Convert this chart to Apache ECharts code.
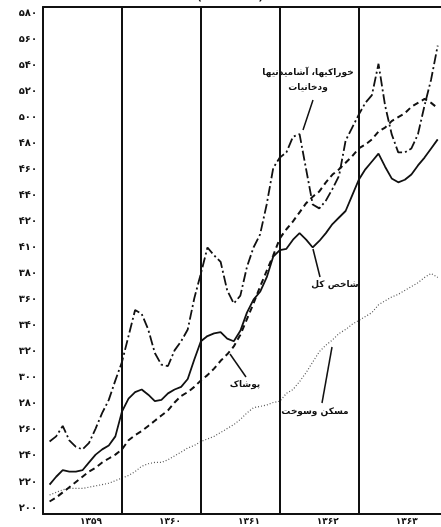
<!DOCTYPE html>
<html>
<head>
<meta charset="utf-8">
<script src="https://cdn.jsdelivr.net/npm/echarts@6/dist/echarts.min.js"></script>
<style>
html,body{margin:0;padding:0;background:#fff}
#cpi_chart{width:441px;height:527px}
</style>
</head>
<body>
<div id="cpi_chart"></div>
<script>
// monthly index, 1358 = 100, five years of months
const years = ['۱۳۵۹', '۱۳۶۰', '۱۳۶۱', '۱۳۶۲', '۱۳۶۳'];
const yearBounds = [12, 24, 36, 48];
const yTicks = [200, 220, 240, 260, 280, 300, 320, 340, 360, 380, 400, 420, 440, 460, 480, 500, 520, 540, 560, 580];
const yLabels = ['۲۰۰', '۲۲۰', '۲۴۰', '۲۶۰', '۲۸۰', '۳۰۰', '۳۲۰', '۳۴۰', '۳۶۰', '۳۸۰', '۴۱۰', '۴۲۰', '۴۴۰', '۴۶۰', '۴۸۰', '۵۰۰', '۵۲۰', '۵۴۰', '۵۶۰', '۵۸۰'];

const food = [251, 255, 263, 252, 247, 245, 250, 261, 273, 283, 298, 312,
  332, 352, 349, 337, 319, 310, 309, 321, 328, 337, 361, 380,
  400, 394, 389, 367, 357, 363, 385, 400, 410, 433, 461, 469,
  473, 485, 487, 460, 433, 430, 436, 445, 455, 482, 492, 502,
  511, 517, 541, 509, 487, 473, 473, 476, 487, 509, 529, 555];
const general = [218, 224, 229, 228, 228, 229, 235, 241, 245, 248, 255, 274,
  284, 289, 291, 287, 282, 283, 288, 291, 293, 299, 314, 328,
  332, 334, 335, 330, 328, 336, 350, 360, 366, 377, 393, 398,
  399, 406, 411, 406, 400, 405, 411, 418, 423, 428, 440, 452,
  460, 466, 472, 462, 453, 450, 452, 456, 463, 469, 476, 483];
const clothing = [205, 208, 212, 216, 220, 224, 228, 231, 235, 238, 241, 245,
  252, 256, 259, 263, 267, 271, 275, 281, 286, 289, 293, 298,
  302, 307, 313, 318, 324, 333, 345, 357, 370, 382, 394, 407,
  414, 420, 427, 434, 439, 443, 450, 456, 460, 465, 470, 476,
  479, 483, 489, 492, 497, 500, 503, 508, 511, 514, 511, 507];
const housing = [210, 212, 214, 215, 215, 215, 216, 217, 218, 219, 221, 223,
  225, 228, 232, 234, 235, 235, 237, 240, 243, 246, 248, 251,
  253, 255, 258, 261, 264, 268, 273, 277, 278, 279, 281, 282,
  288, 291, 297, 304, 312, 320, 325, 329, 334, 337, 341, 344,
  347, 350, 356, 359, 362, 364, 367, 370, 373, 377, 380, 377];

const fontFamily = "'DejaVu Sans', sans-serif";

function toPairs(arr) {
  return arr.map((v, i) => [i + 1, v]);
}

function lineSeries(name, arr, color, width, type) {
  return {
    name: name,
    type: 'line',
    data: toPairs(arr),
    symbol: 'none',
    silent: true,
    lineStyle: { color: color, width: width, type: type }
  };
}

const myChart = echarts.init(document.getElementById('cpi_chart'), null, { renderer: 'canvas' });

const option = {
  animation: false,
  backgroundColor: '#fff',
  grid: { left: 43, right: 0, top: 7, bottom: 13 },
  xAxis: [
    {
      type: 'value',
      min: 0,
      max: 60.5,
      axisLine: { show: true, lineStyle: { color: '#111', width: 2 } },
      axisTick: { show: false },
      splitLine: { show: false },
      axisLabel: {
        customValues: years.map((y, i) => i * 12 + 7.3),
        formatter: (v) => years[Math.round((v - 7.3) / 12)],
        color: '#111',
        fontFamily: fontFamily,
        fontWeight: 'bold',
        fontSize: 9,
        margin: 3
      }
    },
    {
      type: 'value',
      position: 'top',
      min: 0,
      max: 60.5,
      axisLine: { show: true, lineStyle: { color: '#111', width: 2 } },
      axisTick: { show: false },
      axisLabel: { show: false },
      splitLine: { show: false }
    }
  ],
  yAxis: {
    type: 'value',
    min: 195.4,
    max: 584.6,
    axisLine: { show: true, lineStyle: { color: '#111', width: 2 } },
    axisTick: { show: false },
    splitLine: { show: false },
    axisLabel: {
      customValues: yTicks,
      formatter: (v) => yLabels[yTicks.indexOf(Math.round(v))],
      color: '#111',
      fontFamily: fontFamily,
      fontWeight: 'bold',
      fontSize: 10,
      margin: 6
    }
  },
  series: [
    Object.assign(lineSeries('مسکن و سوخت', housing, '#555', 1.2, [1, 2]), {
      markLine: {
        silent: true,
        symbol: 'none',
        label: { show: false },
        lineStyle: { color: '#111', width: 2, type: 'solid' },
        data: yearBounds.map(b => ({ xAxis: b }))
      }
    }),
    lineSeries('پوشاک', clothing, '#111', 2, [6, 4]),
    lineSeries('شاخص کل', general, '#111', 1.8, 'solid'),
    lineSeries('خوراکیها، آشامیدنیها و دخانیات', food, '#111', 1.8, [10, 3, 2, 3])
  ],
  graphic: [
    { type: 'text', left: 197, top: -8, style: { text: '(۱۳۵۸=۱۰۰)', font: 'bold 11px ' + fontFamily, fill: '#111' } },
    { type: 'text', x: 308, y: 73, style: { text: 'خوراکیها، آشامیدنیها', font: 'bold 9px ' + fontFamily, fill: '#111', align: 'center', verticalAlign: 'middle' } },
    { type: 'text', x: 308, y: 88, style: { text: 'ودخانیات', font: 'bold 9px ' + fontFamily, fill: '#111', align: 'center', verticalAlign: 'middle' } },
    { type: 'line', shape: { x1: 313, y1: 100, x2: 303, y2: 130 }, style: { stroke: '#111', lineWidth: 1.5 } },
    { type: 'text', x: 335, y: 285, style: { text: 'شاخص کل', font: 'bold 9px ' + fontFamily, fill: '#111', align: 'center', verticalAlign: 'middle' } },
    { type: 'line', shape: { x1: 313, y1: 249, x2: 320, y2: 277 }, style: { stroke: '#111', lineWidth: 1.5 } },
    { type: 'text', x: 245, y: 385, style: { text: 'پوشاک', font: 'bold 9px ' + fontFamily, fill: '#111', align: 'center', verticalAlign: 'middle' } },
    { type: 'line', shape: { x1: 230, y1: 354, x2: 246, y2: 377 }, style: { stroke: '#111', lineWidth: 1.5 } },
    { type: 'text', x: 315, y: 412, style: { text: 'مسکن وسوخت', font: 'bold 9px ' + fontFamily, fill: '#111', align: 'center', verticalAlign: 'middle' } },
    { type: 'line', shape: { x1: 322, y1: 403, x2: 332, y2: 347 }, style: { stroke: '#111', lineWidth: 1.5 } }
  ]
};

option && myChart.setOption(option);
</script>
</body>
</html>
